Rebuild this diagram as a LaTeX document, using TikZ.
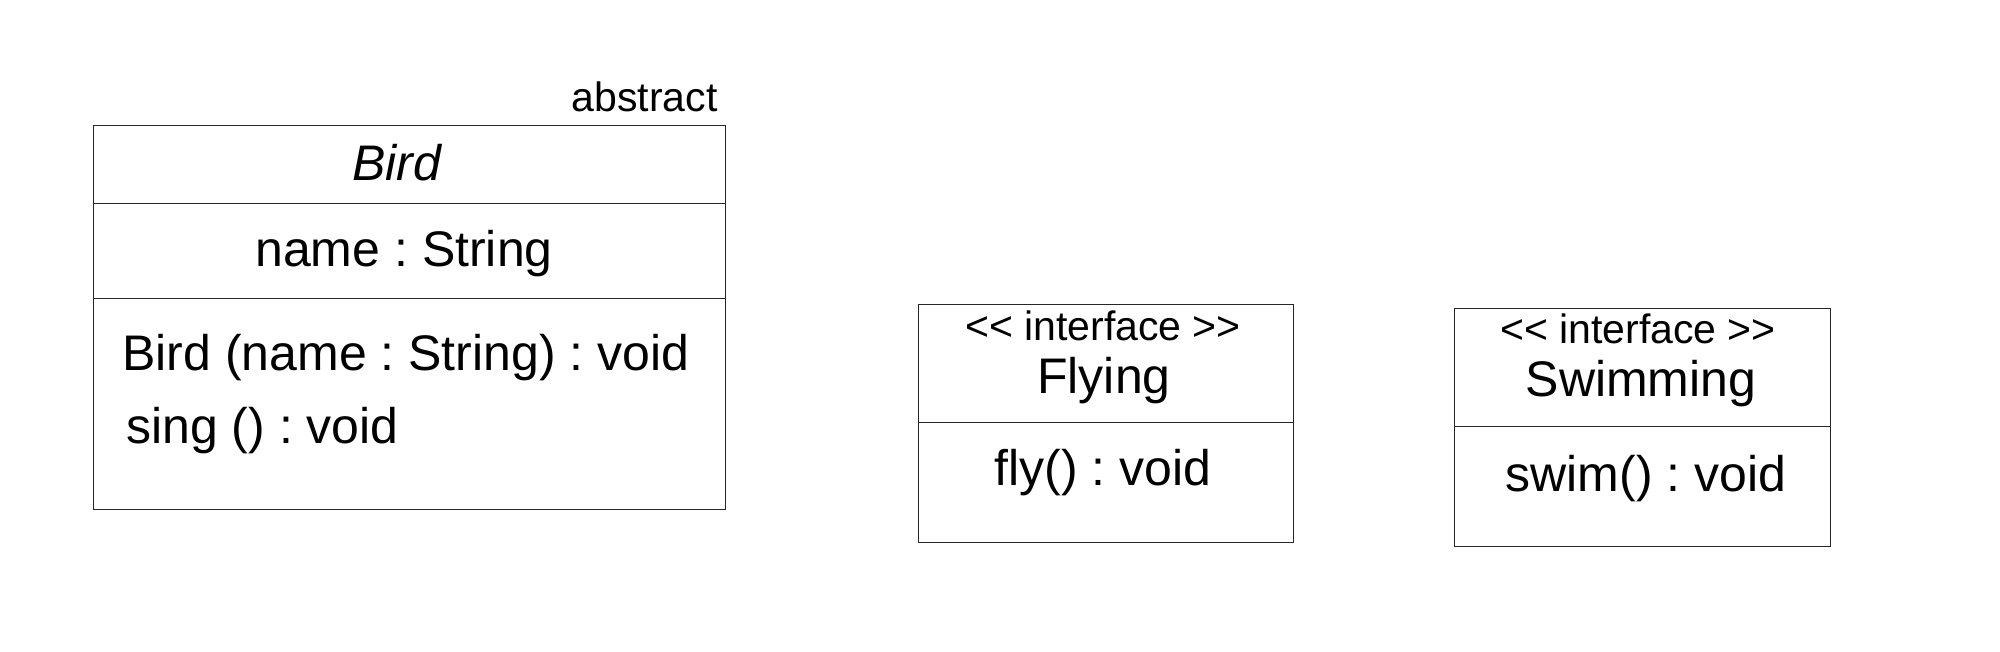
\documentclass[tikz,border=0pt]{standalone}
\usepackage{fontspec}
\newfontfamily\arial{Liberation Sans}
\frenchspacing
\tikzset{
  umlbox/.style={draw=black!85, line width=0.5pt, anchor=north west, inner sep=0pt},
  divider/.style={draw=black!85, line width=0.5pt},
  bigtxt/.style={font=\arial\fontsize{25}{30}\selectfont, inner sep=0pt},
  smalltxt/.style={font=\arial\fontsize{20.5}{24}\selectfont, inner sep=0pt}
}
\begin{document}
\begin{tikzpicture}[x=0.5pt,y=-0.5pt]
\useasboundingbox (0,0) rectangle (2000,652);
% Bird
\node[umlbox, minimum width=315.75pt, minimum height=192pt] (bird) at (93,125) {};
\coordinate (b1) at (0,204);
\coordinate (b2) at (0,298);
\draw[divider] (bird.west |- b1) -- (bird.east |- b1);
\draw[divider] (bird.west |- b2) -- (bird.east |- b2);
\node[smalltxt, anchor=base east] (abs) at (718,112) {abstract};
\node[bigtxt, anchor=base] (birdname) at (397,181) {\itshape Bird};
\node[bigtxt, anchor=base] (birdattr) at (404,266) {name : String};
\node[bigtxt, anchor=base west] (birdop1) at (122,370) {Bird (name : String) : void};
\node[bigtxt, anchor=base west] (birdop2) at (126,443) {sing () : void};
% Flying
\node[umlbox, minimum width=187.5pt, minimum height=119pt] (fly) at (918,304) {};
\coordinate (f1) at (0,422);
\draw[divider] (fly.west |- f1) -- (fly.east |- f1);
\node[smalltxt, anchor=base] (flyst) at (1103,340) {<< interface >>};
\node[bigtxt, anchor=base] (flyname) at (1104,393) {Flying};
\node[bigtxt, anchor=base] (flyop) at (1103,485) {fly() : void};
% Swimming
\node[umlbox, minimum width=188pt, minimum height=119pt] (swim) at (1454,308) {};
\coordinate (s1) at (0,426);
\draw[divider] (swim.west |- s1) -- (swim.east |- s1);
\node[smalltxt, anchor=base] (swimst) at (1638,343) {<< interface >>};
\node[bigtxt, anchor=base] (swimname) at (1641,396) {Swimming};
\node[bigtxt, anchor=base] (swimop) at (1646,491) {swim() : void};
\end{tikzpicture}
\end{document}
